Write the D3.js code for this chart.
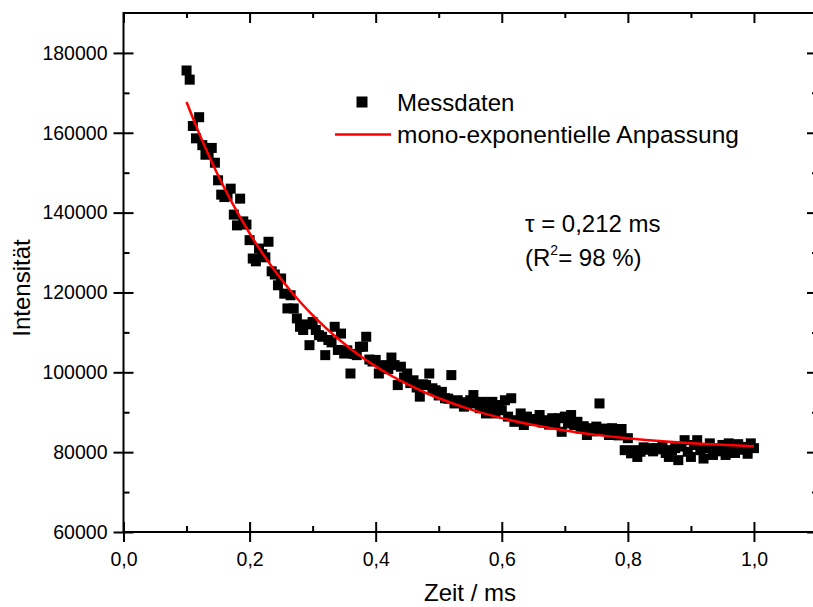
<!DOCTYPE html>
<html><head><meta charset="utf-8">
<script src="https://cdn.jsdelivr.net/npm/d3@7"></script>
<style>body{margin:0;background:#fff} text{font-family:"Liberation Sans",Arial,sans-serif;fill:#000}</style>
</head><body><svg id="c" width="813" height="607"></svg>
<script>
const zeit=[0.100,0.105,0.110,0.115,0.120,0.125,0.130,0.135,0.140,0.145,
0.150,0.155,0.160,0.165,0.170,0.175,0.180,0.185,0.190,0.195,
0.200,0.205,0.210,0.215,0.220,0.225,0.230,0.235,0.240,0.245,
0.250,0.255,0.260,0.265,0.270,0.275,0.280,0.285,0.290,0.295,
0.300,0.305,0.310,0.315,0.320,0.325,0.330,0.335,0.340,0.345,
0.350,0.355,0.360,0.365,0.370,0.375,0.380,0.385,0.390,0.395,
0.400,0.405,0.410,0.415,0.420,0.425,0.430,0.435,0.440,0.445,
0.450,0.455,0.460,0.465,0.470,0.475,0.480,0.485,0.490,0.495,
0.500,0.505,0.510,0.515,0.520,0.525,0.530,0.535,0.540,0.545,
0.550,0.555,0.560,0.565,0.570,0.575,0.580,0.585,0.590,0.595,
0.600,0.605,0.610,0.615,0.620,0.625,0.630,0.635,0.640,0.645,
0.650,0.655,0.660,0.665,0.670,0.675,0.680,0.685,0.690,0.695,
0.700,0.705,0.710,0.715,0.720,0.725,0.730,0.735,0.740,0.745,
0.750,0.755,0.760,0.765,0.770,0.775,0.780,0.785,0.790,0.795,
0.800,0.805,0.810,0.815,0.820,0.825,0.830,0.835,0.840,0.845,
0.850,0.855,0.860,0.865,0.870,0.875,0.880,0.885,0.890,0.895,
0.900,0.905,0.910,0.915,0.920,0.925,0.930,0.935,0.940,0.945,
0.950,0.955,0.960,0.965,0.970,0.975,0.980,0.985,0.990,0.995,
1.000];
const intensitaet=[175600,173300,161700,158600,163900,156900,154500,154800,156200,152500,
148100,144500,143900,144200,146000,139500,136800,143500,137800,137000,
133100,128500,127800,131000,129600,128800,132700,125300,124500,121800,
123500,119700,116000,119300,116000,113500,111400,110600,112000,106800,
112600,110600,109300,108900,104300,108100,107500,111400,105600,109700,
104700,105500,99700,104600,104300,106400,106400,108900,103200,102700,
103100,99700,101500,101800,100800,103700,101800,96800,101400,98700,
99700,97300,98000,96200,93900,97000,96800,99700,96000,95500,
94200,95100,93500,93400,99300,92200,93000,92500,91400,92000,
93000,94300,92200,91000,92600,89700,91800,92600,89700,91800,
90500,93000,88900,93500,87600,88000,89700,86800,88900,88300,
87800,88000,89300,87400,88000,86900,88500,87200,88500,85100,
88900,87200,89300,86800,87600,85900,86500,84300,86000,85200,
86400,92200,85600,85900,84300,86000,85100,84200,85800,80500,
83500,79700,80500,78800,80100,81200,80600,81000,80200,81000,
80700,81400,79800,78800,80500,81000,78000,81400,83000,80100,
78800,81800,83000,80500,78400,81000,82200,79300,81000,80200,
81800,79300,82200,80400,79800,82000,80600,81300,79600,82200,
81000];
const fitZeit=[0.10,0.12,0.14,0.16,0.18,0.20,0.22,0.24,0.26,0.28,0.30,0.32,0.34,0.36,0.38,0.40,0.42,0.44,0.46,0.48,0.50,0.55,0.60,0.65,0.70,0.75,0.80,0.85,0.90,0.95,1.00];
const fitWerte=[167700,159850,152690,146170,140230,134830,129920,125450,121370,117670,114300,111240,108450,105910,103600,101490,99580,97840,96260,94820,93510,90720,88520,86780,85410,84330,83470,82790,82260,81840,81500];
const xMajor=[0,0.2,0.4,0.6,0.8,1.0];
const xMinor=[0.1,0.3,0.5,0.7,0.9];
const yMajor=[60000,80000,100000,120000,140000,160000,180000];
const yMinor=[70000,90000,110000,130000,150000,170000];
const legendLabels=["Messdaten","mono-exponentielle Anpassung"];
const xTitle="Zeit / ms", yTitle="Intensität";

const svg=d3.select("#c");
svg.append("rect").attr("width",813).attr("height",607).attr("fill","#fff");
const x=d3.scaleLinear().domain([0,1.1]).range([123.5,817]);
const y=d3.scaleLinear().domain([60000,190000]).range([532,13]);
const fmtX=d=>d3.format(".1f")(d).replace(".",",");

// frame
svg.append("rect").attr("x",x(0)).attr("y",y(190000)).attr("width",x(1.1)-x(0)).attr("height",y(60000)-y(190000))
  .attr("fill","none").attr("stroke","#000").attr("stroke-width",2);

// bottom axis
const gb=svg.append("g").attr("transform",`translate(0,${y(60000)})`)
  .call(d3.axisBottom(x).tickValues(xMajor).tickSize(10).tickPadding(10).tickFormat(fmtX));
gb.select(".domain").remove();
gb.selectAll(".tick line").attr("y1",-10).attr("y2",10).attr("stroke-width",2);
gb.selectAll(".tick text").attr("font-size",19.5);
const gbm=svg.append("g").attr("transform",`translate(0,${y(60000)})`)
  .call(d3.axisBottom(x).tickValues(xMinor).tickSize(-6).tickFormat(""));
gbm.select(".domain").remove();
gbm.selectAll(".tick line").attr("stroke-width",2);
// top axis
const gt=svg.append("g").attr("transform",`translate(0,${y(190000)})`)
  .call(d3.axisTop(x).tickValues(xMajor).tickSize(-10).tickFormat(""));
gt.select(".domain").remove();
gt.selectAll(".tick line").attr("stroke-width",2);
const gtm=svg.append("g").attr("transform",`translate(0,${y(190000)})`)
  .call(d3.axisTop(x).tickValues(xMinor).tickSize(-5).tickFormat(""));
gtm.select(".domain").remove();
gtm.selectAll(".tick line").attr("stroke-width",2);

// left axis
const gl=svg.append("g").attr("transform",`translate(${x(0)},0)`)
  .call(d3.axisLeft(y).tickValues(yMajor).tickSize(10).tickPadding(6).tickFormat(d3.format("d")));
gl.select(".domain").remove();
gl.selectAll(".tick line").attr("x1",10).attr("x2",-10).attr("stroke-width",2);
gl.selectAll(".tick text").attr("font-size",19.5);
const glm=svg.append("g").attr("transform",`translate(${x(0)},0)`)
  .call(d3.axisLeft(y).tickValues(yMinor).tickSize(-6).tickFormat(""));
glm.select(".domain").remove();
glm.selectAll(".tick line").attr("stroke-width",2);
// right axis
const gr=svg.append("g").attr("transform",`translate(${x(1.1)},0)`)
  .call(d3.axisRight(y).tickValues(yMajor).tickSize(-10).tickFormat(""));
gr.select(".domain").remove();
gr.selectAll(".tick line").attr("stroke-width",2);
const grm=svg.append("g").attr("transform",`translate(${x(1.1)},0)`)
  .call(d3.axisRight(y).tickValues(yMinor).tickSize(-5).tickFormat(""));
grm.select(".domain").remove();
grm.selectAll(".tick line").attr("stroke-width",2);

// data points
const data=zeit.map((t,i)=>({t,v:intensitaet[i]}));
const s=10;
svg.append("g").selectAll("rect").data(data).join("rect")
  .attr("x",d=>x(d.t)-s/2).attr("y",d=>y(d.v)-s/2).attr("width",s).attr("height",s).attr("fill","#000");

// fit line
const fit=fitZeit.map((t,i)=>({t,v:fitWerte[i]}));
svg.append("path").datum(fit).attr("fill","none").attr("stroke","#ff0000").attr("stroke-width",2.5)
  .attr("d",d3.line().x(d=>x(d.t)).y(d=>y(d.v)).curve(d3.curveMonotoneX));

// legend
svg.append("rect").attr("x",362-5.5).attr("y",102-5.5).attr("width",11).attr("height",11).attr("fill","#000");
svg.append("text").attr("x",397).attr("y",111).attr("font-size",24).text(legendLabels[0]);
svg.append("line").attr("x1",335).attr("x2",391).attr("y1",134.5).attr("y2",134.5).attr("stroke","#ff0000").attr("stroke-width",2.5);
svg.append("text").attr("x",397).attr("y",143).attr("font-size",24.5).text(legendLabels[1]);

// annotation
svg.append("text").attr("x",525).attr("y",232).attr("font-size",24).text("τ = 0,212 ms");
const r=svg.append("text").attr("x",525).attr("y",266).attr("font-size",24);
r.append("tspan").text("(R");
r.append("tspan").attr("font-size",14).attr("dy",-11).text("2");
r.append("tspan").attr("dy",11).text("= 98 %)");

// titles
svg.append("text").attr("x",470).attr("y",601).attr("text-anchor","middle").attr("font-size",24).text(xTitle);
svg.append("text").attr("transform","translate(30,288) rotate(-90)").attr("text-anchor","middle").attr("font-size",24).text(yTitle);
</script></body></html>
